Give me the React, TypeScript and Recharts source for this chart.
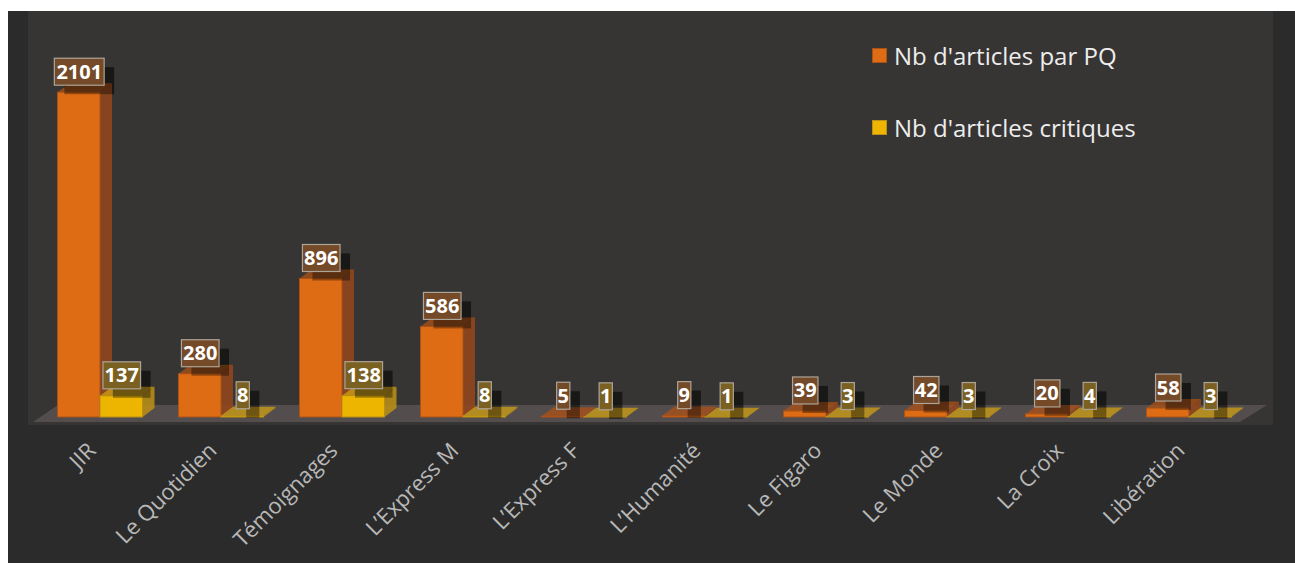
import { BarChart, Bar, XAxis, YAxis, Legend, LabelList } from "recharts";

const categories = ["JIR", "Le Quotidien", "Témoignages", "L’Express M", "L’Express F", "L’Humanité", "Le Figaro", "Le Monde", "La Croix", "Libération"];
const articlesParPQ = [2101, 280, 896, 586, 5, 9, 39, 42, 20, 58];
const articlesCritiques = [137, 8, 138, 8, 1, 1, 3, 3, 4, 3];

const data = categories.map((name, i) => ({
  name,
  total: articlesParPQ[i],
  critiques: articlesCritiques[i],
}));

const FONT = "'Open Sans', sans-serif";
const DEPTH_X = 12;
const DEPTH_Y = 9;

const ORANGE = { front: "#de6c14", side: "#93471c", top: "#b05213", edge: "#a8521a", label: "#744a28" };
const YELLOW = { front: "#eeb500", side: "#b98f17", top: "#d5a513", edge: "#b98f17", label: "#7a6122" };

const labelWidth = (value: number) => String(value).length * 12.2 + 1;

function Box3D(props: any) {
  const { x, y, width, height, colors, field, payload } = props;
  const bottom = y + height;
  const w = labelWidth(payload[field]);
  const cx = x + width / 2 + 0.5;
  return (
    <g>
      {/* half of the label shadow goes behind the see-through faces */}
      <rect x={cx - w / 2 + 10} y={y - 25} width={w} height={27} fill="#000" fillOpacity={0.3} />
      <polygon
        points={`${x + width},${y} ${x + width + DEPTH_X},${y - DEPTH_Y} ${x + width + DEPTH_X},${bottom - DEPTH_Y} ${x + width},${bottom}`}
        fill={colors.side}
        fillOpacity={0.88}
      />
      <polygon
        points={`${x},${y} ${x + DEPTH_X},${y - DEPTH_Y} ${x + width + DEPTH_X},${y - DEPTH_Y} ${x + width},${y}`}
        fill={colors.top}
        fillOpacity={0.72}
      />
      <rect x={x} y={y} width={width} height={height} fill={colors.front} stroke={colors.edge} strokeWidth={1} />
    </g>
  );
}

function ValueLabel(props: any) {
  const { x, y, width, value, colors } = props;
  const w = labelWidth(value);
  const cx = x + width / 2 + 0.5;
  const boxY = y - 34;
  return (
    <g>
      <rect x={cx - w / 2 + 10} y={boxY + 9} width={w} height={27} fill="#000" fillOpacity={0.35} />
      <rect x={cx - w / 2} y={boxY} width={w} height={27} fill={colors.label} stroke="#aca498" strokeWidth={1.2} />
      <text x={cx} y={boxY + 20.5} textAnchor="middle" fontFamily={FONT} fontSize={20} fontWeight={700} fill="#fff">
        {value}
      </text>
    </g>
  );
}

function CategoryTick({ x, y, payload }: any) {
  const tx = x - 3;
  const ty = y + 27;
  return (
    <text x={tx} y={ty} textAnchor="end" transform={`rotate(-45 ${tx} ${ty})`} fontFamily={FONT} fontSize={22} fill="#b8b8b8">
      {payload.value}
    </text>
  );
}

function LegendBox({ payload }: any) {
  return (
    <div>
      {(payload || []).map((item: any) => (
        <div key={item.value} style={{ display: "flex", alignItems: "center", height: 72, fontFamily: FONT, fontSize: 24, color: "#ededed" }}>
          <span style={{ width: 15, height: 15, boxSizing: "border-box", marginRight: 7, background: item.color, border: `1.5px solid ${item.value.includes("PQ") ? ORANGE.edge : YELLOW.edge}` }} />
          {item.value}
        </div>
      ))}
    </div>
  );
}

export default function App() {
  return (
    <div style={{ position: "absolute", left: 0, top: 0, width: 1295, height: 563, background: "#fff", overflow: "hidden" }}>
      <div style={{ position: "absolute", left: 8, top: 11, width: 1287, height: 552, background: "#2b2b2b" }} />
      <div style={{ position: "absolute", left: 28, top: 11, width: 1245, height: 414, background: "#373534" }} />
      <svg width={1295} height={563} style={{ position: "absolute", left: 0, top: 0 }}>
        <polygon points="33,422 58,405 1267,405 1240,422" fill="#544d4d" />
      </svg>
      <div style={{ position: "absolute", left: 0, top: 0 }}>
        <BarChart
          width={1295}
          height={563}
          data={data}
          margin={{ top: 46, right: 45.5, bottom: 0, left: 39.5 }}
          barSize={42.5}
          barGap={0}
        >
          <XAxis dataKey="name" interval={0} height={146} axisLine={false} tickLine={false} tick={<CategoryTick />} />
          <YAxis hide domain={[0, 2400]} />
          <Legend
            layout="vertical"
            align="center"
            verticalAlign="middle"
            itemSorter={null}
            content={<LegendBox />}
            wrapperStyle={{ left: 872, top: 19, width: 320 }}
          />
          <Bar dataKey="total" name="Nb d'articles par PQ" fill={ORANGE.front} isAnimationActive={false} shape={(p: any) => <Box3D {...p} colors={ORANGE} field="total" />}>
            <LabelList dataKey="total" content={(p: any) => <ValueLabel {...p} colors={ORANGE} />} />
          </Bar>
          <Bar dataKey="critiques" name="Nb d'articles critiques" fill={YELLOW.front} isAnimationActive={false} shape={(p: any) => <Box3D {...p} colors={YELLOW} field="critiques" />}>
            <LabelList dataKey="critiques" content={(p: any) => <ValueLabel {...p} colors={YELLOW} />} />
          </Bar>
        </BarChart>
      </div>
    </div>
  );
}
